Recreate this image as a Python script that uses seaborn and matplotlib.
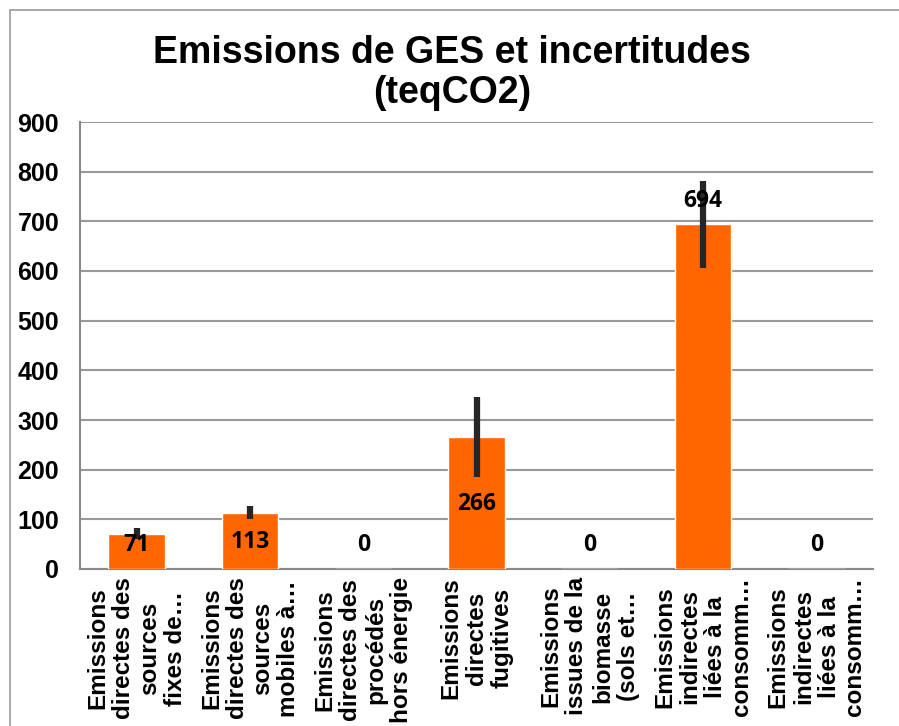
import matplotlib
matplotlib.use("Agg")
import matplotlib.pyplot as plt
import matplotlib.patches as patches
import seaborn as sns
import pandas as pd

# categories (x labels as wrapped in the original chart)
labels = [
    "Emissions\ndirectes des\nsources\nfixes de…",
    "Emissions\ndirectes des\nsources\nmobiles à…",
    "Emissions\ndirectes des\nprocédés\nhors énergie",
    "Emissions\ndirectes\nfugitives",
    "Emissions\nissues de la\nbiomasse\n(sols et…",
    "Emissions\nindirectes\nliées à la\nconsomm…",
    "Emissions\nindirectes\nliées à la\nconsomm…",
]
emissions = [71, 113, 0, 266, 0, 694, 0]
incertitude = [11, 13, 0, 81, 0, 88, 0]
label_y = [48, 54, 48, 130, 48, 741, 48]  # where Excel put the data labels

df = pd.DataFrame({"poste": [f"p{i}" for i in range(len(labels))],
                   "teqCO2": emissions})

sns.set_style("white")
plt.rcParams["font.family"] = ["Liberation Sans", "DejaVu Sans"]
plt.rcParams["text.color"] = "black"
plt.rcParams["xtick.labelcolor"] = "black"
plt.rcParams["ytick.labelcolor"] = "black"

fig = plt.figure(figsize=(8.99, 7.26), dpi=100)
ax = fig.add_axes([80 / 899, 1 - 569 / 726, 793 / 899, 447 / 726])

sns.barplot(data=df, x="poste", y="teqCO2", color="#FF6600", saturation=1,
            width=0.5, edgecolor="white", linewidth=1.0, ax=ax, zorder=3)

ax.errorbar(range(len(emissions)), emissions, yerr=incertitude, fmt="none",
            ecolor="#262626", elinewidth=4.5, capsize=0, zorder=4)

for i, (v, y) in enumerate(zip(emissions, label_y)):
    ax.text(i, y, str(v), ha="center", va="center", fontsize=16.5,
            fontweight="bold", family="Open Sans", color="black", zorder=5)

ax.set_ylim(0, 900)
ax.set_xlim(-0.5, len(labels) - 0.5)
ax.set_yticks(range(0, 901, 100))
ax.set_yticklabels([str(t) for t in range(0, 901, 100)],
                   fontsize=18, fontweight="bold")
ax.set_xticks(range(len(labels)))
ax.set_xticklabels(labels, rotation=90, fontsize=17.5, fontweight="bold",
                   multialignment="center", linespacing=1.15)
ax.set_xticks([i - 0.5 for i in range(len(labels) + 1)], minor=True)
ax.tick_params(axis="x", which="major", length=0, pad=6)
ax.tick_params(axis="x", which="minor", length=6, width=1.2, color="#898989")
ax.tick_params(axis="y", length=7, width=1.2, color="#898989", pad=8)

ax.yaxis.grid(True, color="#999999", linewidth=1.5, zorder=0)
ax.set_axisbelow(True)
for s in ["top", "right"]:
    ax.spines[s].set_visible(False)
for s in ["left", "bottom"]:
    ax.spines[s].set_color("#898989")
    ax.spines[s].set_linewidth(1.5)
ax.set_xlabel("")
ax.set_ylabel("")

fig.text(452 / 899, 1 - 73 / 726, "Emissions de GES et incertitudes\n(teqCO2)",
         ha="center", va="center", fontsize=27, fontweight="bold",
         linespacing=1.15)

# outer chart frame (only left and top edges fall inside the picture)
fig.patches.append(patches.Rectangle((10 / 899, -0.05), 1.1, 1 - 10 / 726 + 0.05,
                                     transform=fig.transFigure, fill=False,
                                     edgecolor="#9a9a9a", linewidth=1.2))

fig.savefig("out.png", dpi=100)
plt.close(fig)
